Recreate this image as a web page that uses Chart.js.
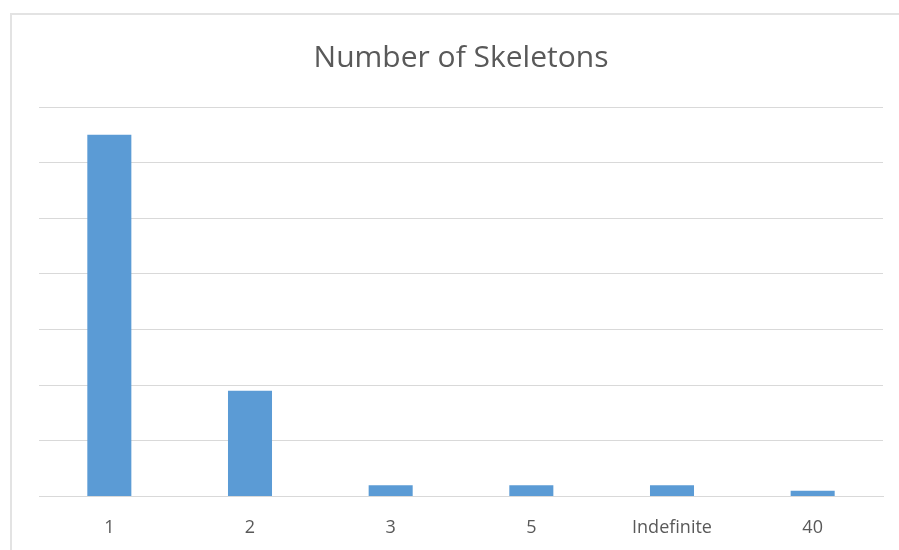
<!DOCTYPE html>
<html>
<head>
<meta charset="utf-8">
<script src="https://cdn.jsdelivr.net/npm/chart.js@4"></script>
<style>
  html, body { margin: 0; padding: 0; background: #fff; }
  #wrap { position: relative; width: 899px; height: 550px; overflow: hidden; }
  #frame {
    position: absolute; left: 10px; top: 13px; width: 900px; height: 560px;
    border-left: 2px solid #e3e3e3; border-top: 2px solid #e3e3e3;
  }
  #chart { position: absolute; left: 0; top: 0; }
</style>
</head>
<body>
<div id="wrap">
  <div id="frame"></div>
  <canvas id="chart" width="899" height="560"></canvas>
</div>
<script>
// data
const categories = ["1", "2", "3", "5", "Indefinite", "40"];
const skeletonCounts = [65, 19, 2, 2, 2, 1];
const yMax = 70;
const yStep = 10;

const textColor = "#595959";
const gridColor = "#d9d9d9";
const barColor = "#5b9bd5";

const ctx = document.getElementById("chart");

new Chart(ctx, {
  type: "bar",
  data: {
    labels: categories,
    datasets: [
      {
        label: "Number of Skeletons",
        data: skeletonCounts,
        backgroundColor: barColor,
        borderWidth: 0,
        barPercentage: 0.313,
        categoryPercentage: 1,
      },
    ],
  },
  options: {
    responsive: false,
    animation: false,
    layout: {
      padding: { left: 39, right: 16, top: 0, bottom: 0 },
    },
    plugins: {
      legend: { display: false },
      tooltip: { enabled: false },
      title: {
        display: true,
        text: "Number of Skeletons",
        color: textColor,
        font: { family: "Open Sans", size: 30, weight: "normal" },
        padding: { top: 40, bottom: 31 },
      },
    },
    scales: {
      x: {
        grid: { display: false, drawTicks: false },
        border: { display: true, color: gridColor, width: 1 },
        ticks: {
          color: textColor,
          font: { family: "Open Sans", size: 18 },
          padding: 21,
          maxRotation: 0,
        },
      },
      y: {
        min: 0,
        max: yMax,
        border: { display: false },
        grid: { color: gridColor, lineWidth: 1, drawTicks: false },
        ticks: { display: false, stepSize: yStep },
      },
    },
  },
});
</script>
</body>
</html>
